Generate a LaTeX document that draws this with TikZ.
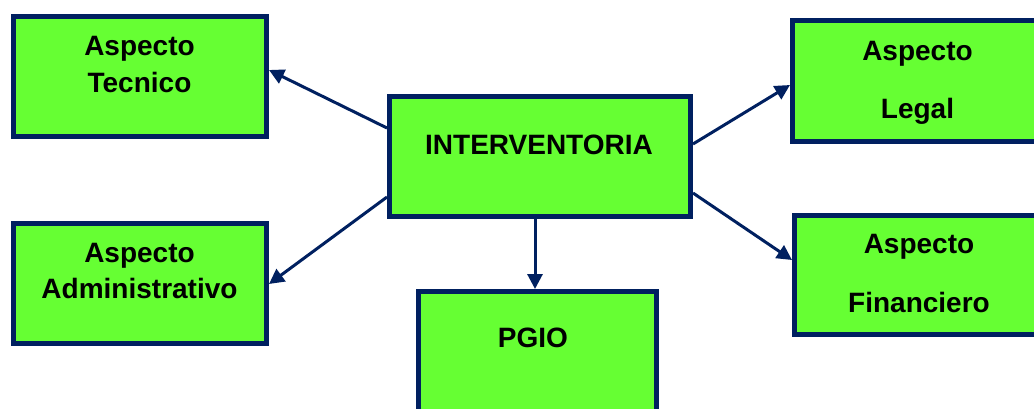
\documentclass[tikz,border=0pt]{standalone}
\usepackage{fontspec}
\setmainfont{Liberation Sans}
\usetikzlibrary{arrows.meta}
\definecolor{boxfill}{RGB}{102,255,51}
\definecolor{navy}{RGB}{0,32,96}
\begin{document}
\begin{tikzpicture}[x=1pt,y=-1pt,
  box/.style={draw=navy,fill=boxfill,line width=5pt,rectangle,inner sep=0pt},
  lbl/.style={anchor=base,inner sep=0pt,font=\fontsize{28}{34}\selectfont\bfseries},
  arr/.style={draw=navy,line width=3pt,-{Triangle[length=15pt,width=15pt]}}]
\useasboundingbox (0,0) rectangle (1034,408);
% boxes
\node[box,minimum width=253pt,minimum height=120pt] (tec) at (140,76.5) {};
\node[box,minimum width=253pt,minimum height=120pt] (adm) at (140,283.5) {};
\node[box,minimum width=301pt,minimum height=120pt] (int) at (540,156.5) {};
\node[box,minimum width=251pt,minimum height=121pt] (leg) at (918,81) {};
\node[box,minimum width=249pt,minimum height=119pt] (fin) at (919,275) {};
\node[box,minimum width=238pt,minimum height=120pt] (pgio) at (537.5,351.5) {};
% texts
\node[lbl] (tec1) at (139.5,55) {Aspecto};
\node[lbl] (tec2) at (139.5,92) {Tecnico};
\node[lbl] (adm1) at (139.5,262) {Aspecto};
\node[lbl] (adm2) at (139.5,298) {Administrativo};
\node[lbl] (int1) at (539,154) {INTERVENTORIA};
\node[lbl] (leg1) at (917.5,60) {Aspecto};
\node[lbl] (leg2) at (917.5,118) {Legal};
\node[lbl] (fin1) at (919,253) {Aspecto};
\node[lbl] (fin2) at (919,312) {Financiero};
\node[lbl] (pgio1) at (533,347) {PGIO};
% connectors
\draw[arr] ([yshift=28.5pt]int.west) -- ([yshift=6.5pt]tec.east);
\draw[arr] ([yshift=-40.5pt]int.west) -- ([yshift=-0.5pt]adm.east);
\draw[arr] ([yshift=12.5pt]int.east) -- ([yshift=-4pt]leg.west);
\draw[arr] ([yshift=-36.5pt]int.east) -- ([yshift=15pt]fin.west);
\draw[arr] ([xshift=-5pt]int.south) -- ([xshift=-2.5pt]pgio.north);
\end{tikzpicture}
\end{document}
